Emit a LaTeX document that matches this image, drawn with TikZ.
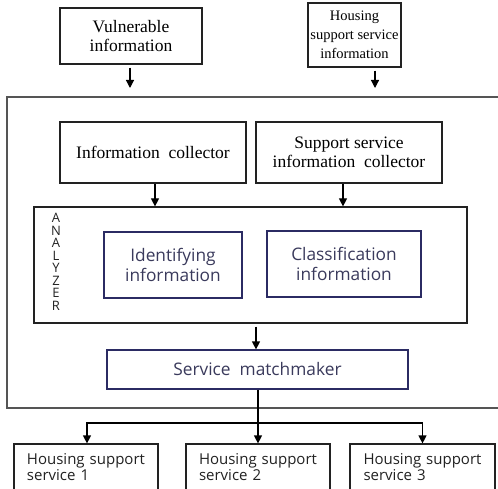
\documentclass[tikz,border=0pt]{standalone}
\usepackage{fontspec}
\setmainfont{Liberation Serif}
\setsansfont{Open Sans}
\usepackage{xcolor}
\usepackage{tikz}
\usetikzlibrary{arrows.meta,positioning,calc}
\definecolor{marino}{HTML}{2B2B63}
\definecolor{marinotexto}{HTML}{3A3A5C}
\definecolor{gris}{HTML}{555555}
\definecolor{grisoscuro}{HTML}{222222}
\tikzset{
  caja/.style={draw=grisoscuro,fill=white,line width=1.2pt,align=center,font=\fontsize{17.5}{19}\selectfont,inner sep=2pt},
  cajaazul/.style={draw=marino,fill=white,line width=1.2pt,align=center,text=marinotexto,font=\sffamily\fontsize{17.3}{20}\selectfont,inner sep=2pt},
  cajaservicio/.style={draw=grisoscuro,fill=white,line width=1.2pt,align=left,text=grisoscuro,font=\sffamily\fontsize{15}{16}\selectfont,inner sep=2pt,minimum width=144pt,minimum height=46pt,text width=118pt},
  marco/.style={draw=gris,line width=1.6pt},
  flecha/.style={-{Triangle[length=8pt,width=8pt]},line width=1.2pt,black},
}
\begin{document}
\begin{tikzpicture}[x=1pt,y=-1pt]
  \useasboundingbox (0,0) rectangle (498,489);
  % entradas
  \node[caja,minimum width=142pt,minimum height=56pt] (vul) at (131,36) {Vulnerable\\information};
  \node[caja,minimum width=93pt,minimum height=64pt,font=\fontsize{14.5}{19}\selectfont] (hous) at (354.5,35) {Housing\\support service\\information};
  \coordinate (ent) at (0,88);
  \draw[flecha] ([xshift=-1pt,yshift=-3pt]vul.south) -- ([xshift=-1pt]vul.south |- ent);
  \draw[flecha] ([xshift=20.5pt,yshift=-3pt]hous.south) -- ([xshift=20.5pt]hous.south |- ent);
  % sistema
  \draw[marco] (498,97) -- (7,97) -- (7,408) -- (498,408);
  \node[caja,minimum width=186pt,minimum height=61pt] (col) at (153,152.5) {Information~~collector};
  \node[caja,minimum width=186pt,minimum height=61pt] (scol) at (349,152.5) {Support service\\information~~collector};
  \node[draw=grisoscuro,line width=1.2pt,minimum width=433pt,minimum height=116pt] (ana) at (250.5,265) {};
  \node[align=center,text=grisoscuro,font=\sffamily\fontsize{13}{12.5}\selectfont,inner sep=0pt] (analbl) at (56,262) {A\\N\\A\\L\\Y\\Z\\E\\R};
  \draw[flecha] ([xshift=2pt]col.south) -- ([xshift=2pt]col.south |- ana.north);
  \draw[flecha] ([xshift=-6pt]scol.south) -- ([xshift=-6pt]scol.south |- ana.north);
  \node[cajaazul,minimum width=138pt,minimum height=66pt] (ident) at (173,265) {Identifying\\information};
  \node[cajaazul,minimum width=154pt,minimum height=66pt] (clas) at (344,264) {Classification\\information};
  \node[cajaazul,minimum width=301pt,minimum height=39pt] (match) at (257.5,369.5) {Service~~matchmaker};
  \draw[flecha] ([xshift=5.5pt,yshift=-3pt]ana.south) -- ([xshift=-1.5pt]match.north);
  % salidas
  \node[cajaservicio] (hs1) at (86,467) {Housing support\\service 1};
  \node[cajaservicio] (hs2) at (258,467) {Housing support\\service 2};
  \node[cajaservicio,minimum width=145pt] (hs3) at (422.5,467) {Housing support\\service 3};
  \coordinate (rama) at (0,423);
  \draw[flecha] ([xshift=0.5pt]match.south) -- (hs2.north);
  \draw[flecha] (hs2.north |- rama) -| ([xshift=1pt]hs1.north);
  \draw[flecha] (hs2.north |- rama) -| (hs3.north);
\end{tikzpicture}
\end{document}
